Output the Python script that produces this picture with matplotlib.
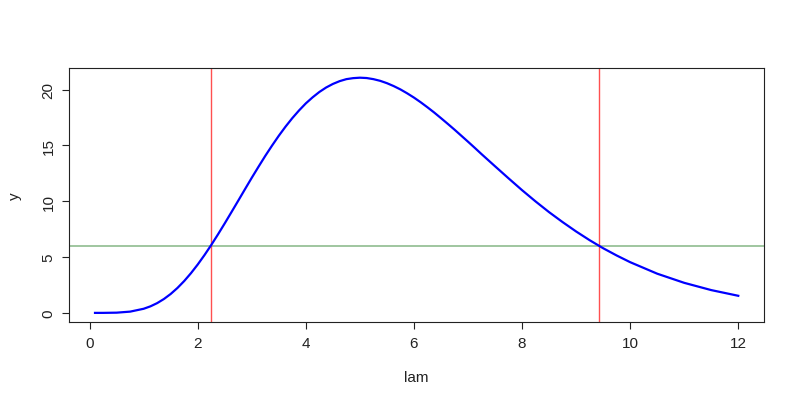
import matplotlib
matplotlib.use("Agg")
import matplotlib.pyplot as plt

# values
lam = [0.1, 0.25, 0.5, 0.75, 1.0, 1.125, 1.25, 1.375, 1.5, 1.625, 1.75,
       1.875, 2.0, 2.125, 2.25, 2.375, 2.5, 2.625, 2.75, 2.875, 3.0, 3.125,
       3.25, 3.375, 3.5, 3.625, 3.75, 3.875, 4.0, 4.125, 4.25, 4.375, 4.5,
       4.625, 4.75, 4.875, 5.0, 5.125, 5.25, 5.375, 5.5, 5.625, 5.75, 5.875,
       6.0, 6.125, 6.25, 6.375, 6.5, 6.625, 6.75, 6.875, 7.0, 7.125, 7.25,
       7.5, 7.75, 8.0, 8.25, 8.5, 8.75, 9.0, 9.25, 9.5, 9.75, 10.0, 10.5,
       11.0, 11.5, 12.0]
y = [0.00001, 0.00076, 0.019, 0.112, 0.368, 0.585, 0.874, 1.243, 1.694,
     2.231, 2.852, 3.554, 4.331, 5.175, 6.078, 7.029, 8.016, 9.029, 10.05,
     11.08, 12.10, 13.09, 14.06, 14.98, 15.86, 16.68, 17.44, 18.13, 18.76,
     19.30, 19.78, 20.18, 20.50, 20.75, 20.93, 21.02, 21.06, 21.03, 20.93,
     20.78, 20.57, 20.31, 20.01, 19.66, 19.28, 18.86, 18.41, 17.94, 17.44,
     16.93, 16.41, 15.87, 15.33, 14.78, 14.22, 13.13, 12.05, 10.99, 9.98,
     9.02, 8.13, 7.29, 6.51, 5.79, 5.14, 4.54, 3.51, 2.69, 2.04, 1.53]

cut_y = 6
cut_x = [2.24, 9.42]

xticks = [0, 2, 4, 6, 8, 10, 12]
yticks = [0, 5, 10, 15, 20]

plt.rcParams["font.family"] = ["Liberation Sans", "DejaVu Sans"]

fig = plt.figure(figsize=(8, 4.1), dpi=100)
ax = fig.add_axes([0.0866, 0.2115, 0.8684, 0.6195])

ax.plot(lam, y, color="blue", linewidth=1.6, zorder=3,
        solid_joinstyle="round")
ax.axhline(cut_y, color="#8fbc8f", linewidth=1.2, zorder=2)
for cx in cut_x:
    ax.axvline(cx, color="#ff5050", linewidth=1.0, zorder=2)

# R style 4% padding
xr = max(lam) - min(lam)
yr = max(y) - min(y)
ax.set_xlim(min(lam) - 0.04 * xr, max(lam) + 0.04 * xr)
ax.set_ylim(min(y) - 0.04 * yr, max(y) + 0.04 * yr)

ax.set_xticks(xticks)
ax.set_yticks(yticks)
ax.set_yticklabels([str(v) for v in yticks], rotation=90, va="center")
ax.tick_params(length=5, width=0.8, labelsize=11, color="#222222",
               labelcolor="#222222", pad=5)
for spine in ax.spines.values():
    spine.set_color("#222222")
    spine.set_linewidth(0.8)

ax.set_xlabel("lam", fontsize=11, color="#222222", labelpad=14)
ax.set_ylabel("y", fontsize=11, color="#222222", labelpad=14)

fig.savefig("out.png", dpi=100, facecolor="white")
